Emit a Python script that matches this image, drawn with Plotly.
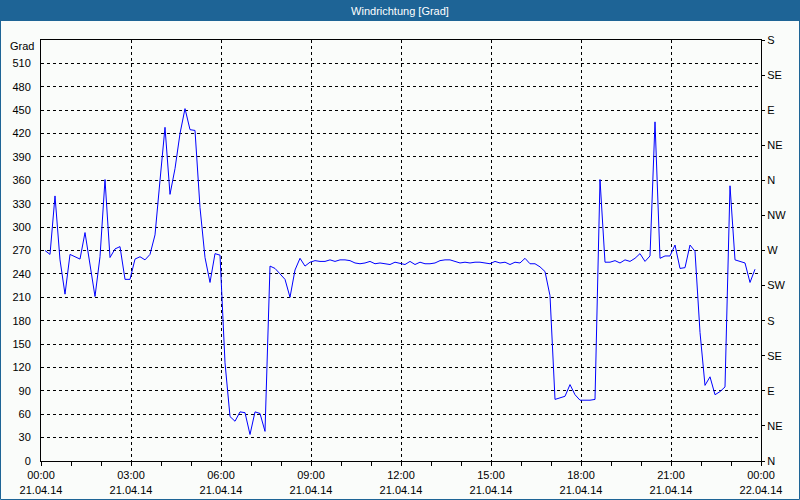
import pandas as pd
import plotly.graph_objects as go

# Wind direction in degrees, 10 minute readings from 00:08 to 23:48
wind_dir = [
    270, 265, 340, 258, 214, 265, 262, 259, 293, 250,
    211, 262, 361, 261, 272, 275, 233, 233, 259, 262,
    258, 265, 290, 360, 428, 342, 375, 420, 452, 425,
    424, 325, 261, 229, 266, 264, 126, 57, 51, 63,
    62, 34, 63, 61, 38, 250, 247, 240, 233, 210,
    245, 260, 250, 255, 257, 256, 256, 258, 256, 258,
    258, 257, 254, 253, 254, 256, 253, 254, 253, 252,
    255, 253, 252, 256, 252, 255, 253, 253, 254, 257,
    258, 258, 256, 254, 255, 254, 255, 255, 254, 253,
    256, 254, 255, 252, 255, 254, 260, 253, 253, 249,
    243, 212, 79, 81, 83, 98, 85, 78, 78, 78,
    79, 361, 255, 255, 257, 254, 258, 256, 260, 266,
    256, 263, 435, 260, 263, 263, 277, 247, 248, 277,
    269, 165, 97, 108, 85, 89, 95, 353, 258, 256,
    254, 229, 246,
]
times = pd.date_range('2014-04-21 00:08', periods=len(wind_dir), freq='10min')

# Axis labels
x_tick_times = pd.date_range('2014-04-21 00:00', '2014-04-22 00:00', freq='3h')
x_tick_text = ['00:00<br>21.04.14', '03:00<br>21.04.14', '06:00<br>21.04.14',
               '09:00<br>21.04.14', '12:00<br>21.04.14', '15:00<br>21.04.14',
               '18:00<br>21.04.14', '21:00<br>21.04.14', '00:00<br>22.04.14']
y_ticks = list(range(0, 540, 30))
compass_vals = [0, 45, 90, 135, 180, 225, 270, 315, 360, 405, 450, 495, 540]
compass_text = ['N', 'NE', 'E', 'SE', 'S', 'SW', 'W', 'NW', 'N', 'NE', 'E', 'SE', 'S']

bg = '#FAFCFA'
bar = '#1E6496'
font = 'Liberation Sans, Arial, sans-serif'

fig = go.Figure()
fig.add_trace(go.Scatter(x=times, y=wind_dir, mode='lines',
                         line=dict(color='#0000FF', width=1), hoverinfo='skip'))
# invisible copy so the compass axis is drawn
fig.add_trace(go.Scatter(x=times, y=wind_dir, mode='lines', yaxis='y2',
                         line=dict(color='rgba(0,0,0,0)', width=1), hoverinfo='skip'))

fig.update_layout(
    width=800, height=500,
    margin=dict(l=41, r=39, t=40, b=39, autoexpand=False),
    paper_bgcolor=bg, plot_bgcolor=bg,
    showlegend=False,
    font=dict(family=font, size=11, color='black'),
    title=dict(text='Windrichtung [Grad]', x=0.5, xanchor='center',
               y=1 - 11 / 500, yanchor='middle', yref='container',
               font=dict(family=font, size=11, color='white')),
    xaxis=dict(range=[x_tick_times[0], x_tick_times[-1]], automargin=False,
               tickvals=x_tick_times, ticktext=x_tick_text,
               ticks='outside', ticklen=4, tickcolor='black',
               minor=dict(dtick=3600000, ticks='outside', ticklen=4, tickcolor='black',
                          showgrid=False),
               showgrid=True, gridcolor='black', gridwidth=1, griddash='3px,3px',
               showline=True, linecolor='black', linewidth=1, mirror=True,
               zeroline=False),
    yaxis=dict(range=[0, 540], tickvals=y_ticks, ticks='', ticklabelstandoff=7,
               automargin=False,
               showgrid=True, gridcolor='black', gridwidth=1, griddash='3px,3px',
               showline=True, linecolor='black', linewidth=1, mirror=True,
               zeroline=False),
    yaxis2=dict(range=[0, 540], overlaying='y', side='right', automargin=False,
                tickvals=compass_vals, ticktext=compass_text,
                ticks='outside', ticklen=3, tickcolor='black',
                showgrid=False, zeroline=False, showline=False),
)

# title bar and outer frame
fig.add_shape(type='rect', xref='paper', yref='paper', layer='below',
              x0=-41 / 720, x1=759 / 720, y0=440 / 421, y1=461 / 421,
              fillcolor=bar, line=dict(width=0))
fig.add_shape(type='rect', xref='paper', yref='paper', layer='below',
              x0=-40.5 / 720, x1=758.5 / 720, y0=-38.5 / 421, y1=460.5 / 421,
              line=dict(color=bar, width=1))

fig.add_annotation(text='Grad', xref='paper', yref='paper',
                   x=-5 / 720, y=(461 - 46) / 421, xanchor='right', yanchor='middle',
                   showarrow=False, font=dict(family=font, size=11, color='black'))

# page body has a default 8px margin; drop it so the figure fills the window
fig.write_html('out.html', config={'displayModeBar': False},
               post_script="document.body.style.margin='0';")
